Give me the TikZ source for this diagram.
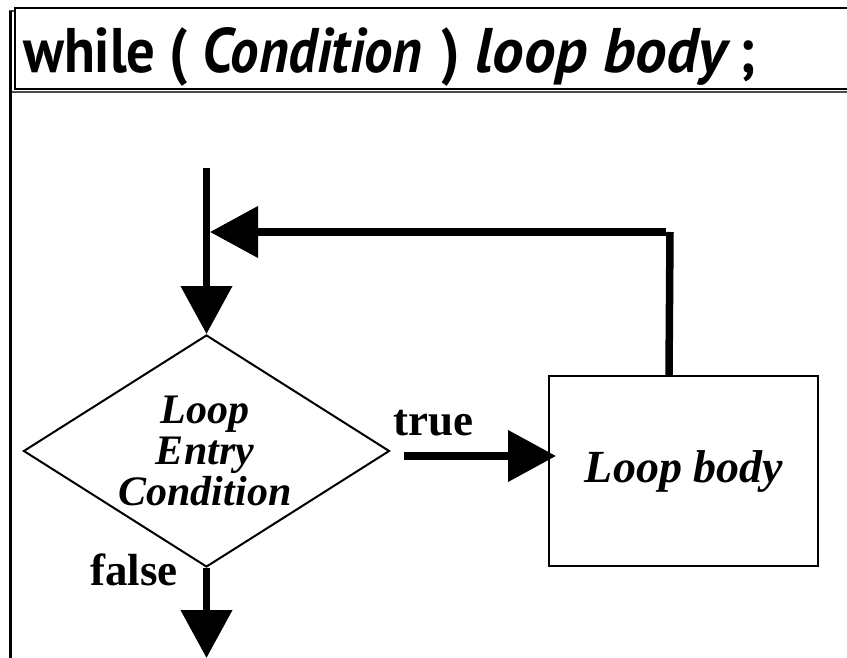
\documentclass[tikz,border=0pt]{standalone}
\usepackage{fontspec}
\setmainfont{Liberation Serif}
\newfontfamily\titlefont[FakeStretch=0.9]{PT Sans}
\newfontfamily\titlewidefont{PT Sans}
\usetikzlibrary{arrows.meta,shapes.geometric}

\tikzset{
  flowline/.style={line width=7.5pt, line cap=butt},
  flow/.style={flowline, -{Triangle[length=48pt,width=50pt]}},
  outline/.style={draw, line width=2pt},
  condshape/.style={outline, shape=diamond, inner sep=0pt, aspect=1.58,
                    minimum width=366pt, minimum height=232pt},
  bodybox/.style={outline, rectangle, minimum width=269pt, minimum height=190pt, inner sep=0pt},
  condlabel/.style={align=center, font=\fontsize{42}{41}\selectfont\bfseries\itshape},
  bodylabel/.style={font=\fontsize{46}{48}\selectfont\bfseries\itshape},
  branchlabel/.style={font=\fontsize{45}{48}\selectfont\bfseries, inner sep=0pt},
  titlelabel/.style={font=\fontsize{63}{64}\selectfont\titlefont\bfseries, inner sep=0pt}
}

\begin{document}
\begin{tikzpicture}[x=1pt, y=-1pt]
  \useasboundingbox (0,0) rectangle (847,658);

  % slide frame: heading bar with its shadow, and the left edge
  \draw[line width=2pt, black!70] (10,11) rectangle (860,92);
  \draw[line width=3pt] (10.5,11) -- (10.5,660);
  \node[draw, line width=2pt, fill=white, rectangle, minimum width=846pt, minimum height=81pt,
        anchor=north west, inner sep=0pt] (bar) at (14,7) {};
  \node[titlelabel, anchor=base west] (title) at (23,73)
    {while\hspace{14pt}(\hspace{14pt}\textit{Condition}\hspace{19pt})\hspace{16pt}%
     {\titlewidefont\bfseries\itshape loop\hspace{16pt}body}\hspace{12pt};};

  % flowchart
  \node[condshape] (cond) at (206.5,451) {};
  \node[condlabel] (condtext) at (205,451) {Loop\\Entry\\Condition};
  \node[bodybox] (body) at (683.5,471) {};
  \node[bodylabel] (bodytext) at (684,472) {Loop body};

  \coordinate (entry) at (206.5,168);
  \coordinate (exit) at (206.5,658);
  \coordinate (turn) at (670,232);
  \coordinate (tstart) at ([xshift=13pt,yshift=-5pt]cond.east);

  \draw[flow] (entry) -- (cond.north);
  \draw[flowline] ([xshift=121pt]body.north west) -- (turn);
  \draw[flow] ([xshift=-4pt]turn) -- ([xshift=3.5pt]turn -| entry);
  \draw[flow] (tstart) -- ([xshift=8pt]tstart -| body.west);
  \draw[flow] (cond.south) -- (exit);

  \node[branchlabel, anchor=base west] (truelbl) at (393,435) {true};
  \node[branchlabel, anchor=base west] (falselbl) at (90,585) {false};
\end{tikzpicture}
\end{document}
